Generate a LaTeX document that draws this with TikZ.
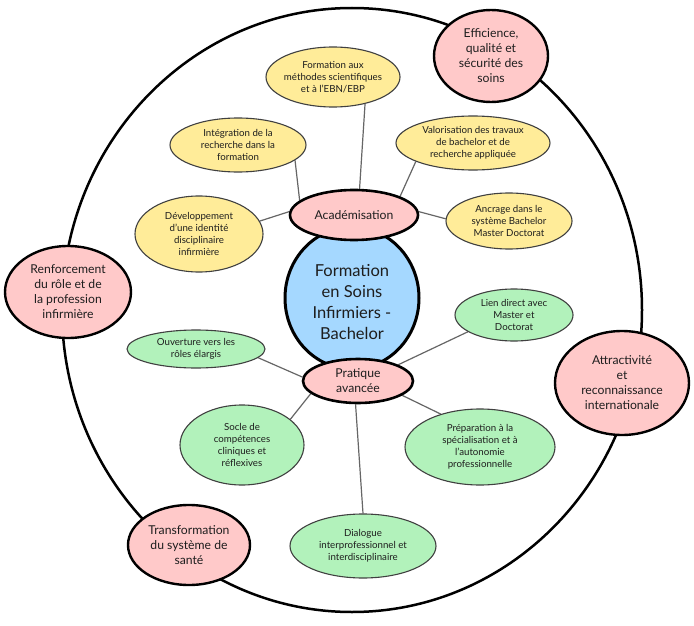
\documentclass[tikz,border=0pt]{standalone}
\usepackage{fontspec}
\setmainfont{Lato}
\usetikzlibrary{shapes.geometric}
\pgfdeclarelayer{bg}
\pgfsetlayers{bg,main}
\definecolor{yelc}{HTML}{FFEC99}
\definecolor{grnc}{HTML}{B2F2BB}
\definecolor{pnkc}{HTML}{FFC9C9}
\definecolor{bluc}{HTML}{A5D8FF}
\definecolor{inkc}{HTML}{1E1E1E}
\definecolor{linkc}{HTML}{666666}
\tikzset{
  bub/.style 2 args={ellipse, minimum width=#1, minimum height=#2, inner sep=0pt},
  yel/.style={draw=inkc!85, line width=1.1pt, fill=yelc},
  grn/.style={draw=inkc!85, line width=1.1pt, fill=grnc},
  hub/.style={draw=black, line width=2.6pt, fill=pnkc},
  outer/.style={draw=black, line width=2.4pt, fill=pnkc},
  core/.style={draw=black, line width=3pt, fill=bluc},
  small/.style={align=center, text=inkc, inner sep=0pt, font=\fontsize{9.7}{12}\selectfont},
  mid/.style={align=center, text=inkc, inner sep=0pt, font=\fontsize{12.2}{15}\selectfont},
  big/.style={align=center, text=inkc, inner sep=0pt, font=\fontsize{16.5}{21}\selectfont},
  link/.style={draw=linkc, line width=1.2pt},
}
\begin{document}
\begin{tikzpicture}[x=1pt,y=-1pt]
\useasboundingbox (0,0) rectangle (694,626);
\begin{pgfonlayer}{bg}
\fill[white] (0,0) rectangle (694,626);
\end{pgfonlayer}
% outer ring
\node[bub={580pt}{604pt}, draw=black, line width=2.5pt] (ring) at (352,310) {};

% core
\node[bub={134pt}{142pt}, core] (core) at (352,298) {};
\node[big] (coreT) at (352,302) {Formation\\en Soins\\Infirmiers -\\Bachelor};

% hubs
\node[bub={128pt}{50pt}, hub] (acad) at (354,215) {};
\node[mid] (acadT) at (acad) {Académisation};
\node[bub={110pt}{44pt}, hub] (prat) at (358,381) {};
\node[mid] (pratT) at (prat) {Pratique\\avancée};

% yellow
\node[bub={134pt}{60pt}, yel] (y1) at (333,77) {};
\node[small] (y1T) at (y1) {Formation aux\\méthodes scientifiques\\et à l'EBN/EBP};
\node[bub={136pt}{54pt}, yel] (y2) at (238,145) {};
\node[small] (y2T) at (y2) {Intégration de la\\recherche dans la\\formation};
\node[bub={154pt}{54pt}, yel] (y3) at (473,143) {};
\node[small] (y3T) at (y3) {Valorisation des travaux\\de bachelor et de\\recherche appliquée};
\node[bub={128pt}{76pt}, yel] (y4) at (199,234) {};
\node[small] (y4T) at (y4) {Développement\\d'une identité\\disciplinaire\\infirmière};
\node[bub={126pt}{56pt}, yel] (y5) at (509,221) {};
\node[small] (y5T) at (y5) {Ancrage dans le\\système Bachelor\\Master Doctorat};

% green
\node[bub={118pt}{52pt}, grn] (g1) at (514,315) {};
\node[small] (g1T) at (g1) {Lien direct avec\\Master et\\Doctorat};
\node[bub={138pt}{38pt}, grn] (g2) at (196,349) {};
\node[small] (g2T) at (g2) {Ouverture vers les\\rôles élargis};
\node[bub={124pt}{80pt}, grn] (g3) at (242,445) {};
\node[small] (g3T) at (g3) {Socle de\\compétences\\cliniques et\\réflexives};
\node[bub={150pt}{76pt}, grn] (g4) at (480,447) {};
\node[small] (g4T) at (g4) {Préparation à la\\spécialisation et à\\l'autonomie\\professionnelle};
\node[bub={146pt}{64pt}, grn] (g5) at (363,546) {};
\node[small] (g5T) at (g5) {Dialogue\\interprofessionnel et\\interdisciplinaire};

% outer pink
\node[bub={114pt}{92pt}, outer] (o1) at (491,56) {};
\node[mid] (o1T) at (o1) {Efficience,\\qualité et\\sécurité des\\soins};
\node[bub={126pt}{92pt}, outer] (o2) at (68,292) {};
\node[mid] (o2T) at (o2) {Renforcement\\du rôle et de\\la profession\\infirmière};
\node[bub={134pt}{104pt}, outer] (o3) at (622,383) {};
\node[mid] (o3T) at (o3) {Attractivité\\et\\reconnaissance\\internationale};
\node[bub={122pt}{80pt}, outer] (o4) at (189,545) {};
\node[mid] (o4T) at (o4) {Transformation\\du système de\\santé};

% connectors
\begin{pgfonlayer}{bg}
\draw[link] (y1.-40) -- (acad.78);
\draw[link] (y2.-15) -- (acad.165);
\draw[link] (y3.198) -- (acad.22);
\draw[link] (y4.12) -- (acad.177);
\draw[link] (y5.178) -- (acad.3);
\draw[link] (g1.-160) -- (prat.22);
\draw[link] (g2.-8) -- (prat.176);
\draw[link] (g3.28) -- (prat.195);
\draw[link] (g4.140) -- (prat.-18);
\draw[link] (g5.90) -- (prat.-96);
\end{pgfonlayer}
\end{tikzpicture}
\end{document}
